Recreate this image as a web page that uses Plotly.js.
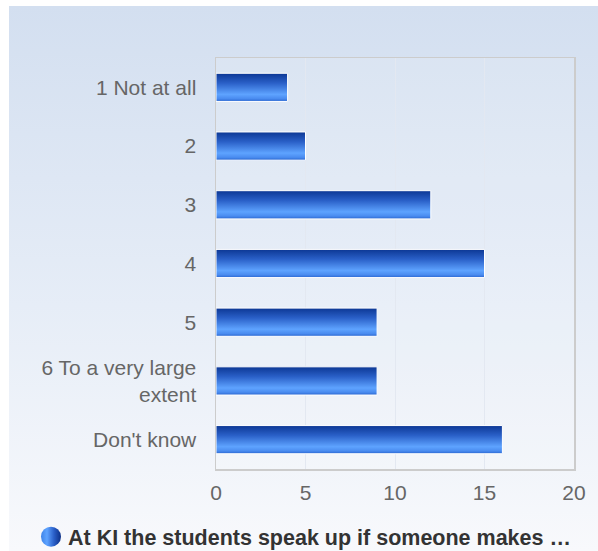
<!DOCTYPE html>
<html>
<head>
<meta charset="utf-8">
<script src="https://cdn.plot.ly/plotly-3.0.1.min.js"></script>
<style>
  html, body { margin: 0; padding: 0; background: #ffffff; }
  #wrap { position: relative; width: 598px; height: 551px; overflow: hidden; }
  #bg { position: absolute; left: 9px; top: 6px; right: 0; bottom: 0;
        background: linear-gradient(to bottom, #d3dff0 0%, #e6edf7 55%, #f8f9fc 100%); }
  #chart { position: absolute; left: 0; top: 0; width: 598px; height: 551px; }
</style>
</head>
<body>
<div id="wrap"><div id="bg"></div><div id="chart"></div></div>
<script>
const categories = ["1 Not at all", "2", "3", "4", "5", "6 To a very large<br>extent", "Don't know"];
const values = [4, 5, 12, 15, 9, 9, 16];
const seriesName = "At KI the students speak up if someone makes …";
const xTicks = [0, 5, 10, 15, 20];

const barTrace = {
  type: 'bar', orientation: 'h',
  x: values, y: categories,
  width: 0.48,
  marker: { color: '#2f6fd8', line: { color: '#ffffff', width: 1 } },
  showlegend: false, hoverinfo: 'x+y'
};
const legendTrace = {
  type: 'scatter', mode: 'markers',
  x: [null], y: [null], name: seriesName,
  marker: { symbol: 'circle', size: 16, color: '#1a4fc0' },
  showlegend: true
};

const layout = {
  width: 598, height: 551,
  margin: { l: 216, r: 24, t: 58, b: 82 },
  paper_bgcolor: 'rgba(0,0,0,0)',
  plot_bgcolor: 'rgba(255,255,255,0.12)',
  font: { family: 'Liberation Sans, Arial, sans-serif', size: 21, color: '#666666' },
  xaxis: {
    range: [0, 20], tickvals: xTicks, ticktext: xTicks.map(String),
    showgrid: true, gridcolor: '#e3e8f1', gridwidth: 1,
    zeroline: false, showline: true, mirror: true, linecolor: '#cccccc', linewidth: 1.5,
    ticks: '', ticklabelstandoff: 4, fixedrange: true
  },
  yaxis: {
    type: 'category', categoryorder: 'array', categoryarray: categories,
    autorange: 'reversed', showgrid: false, zeroline: false,
    showline: true, mirror: true, linecolor: '#cccccc', linewidth: 1.5,
    ticks: '', ticklabelstandoff: 14, fixedrange: true
  },
  showlegend: true,
  legend: {
    orientation: 'h', xref: 'container', yref: 'container',
    x: 0.0468, y: 0.026, xanchor: 'left', yanchor: 'middle',
    bgcolor: 'rgba(0,0,0,0)',
    font: { family: 'Liberation Sans, Arial, sans-serif', size: 21.5, color: '#333333', weight: 'bold' },
    itemwidth: 30
  },
  bargap: 0.5
};

function addGrad(defs, ns, id, horizontal, stops) {
  const g = document.createElementNS(ns, 'linearGradient');
  g.setAttribute('id', id);
  g.setAttribute('x1', '0'); g.setAttribute('y1', '0');
  g.setAttribute('x2', horizontal ? '1' : '0'); g.setAttribute('y2', horizontal ? '0' : '1');
  stops.forEach(function (s) {
    const st = document.createElementNS(ns, 'stop');
    st.setAttribute('offset', s[0]); st.setAttribute('stop-color', s[1]);
    g.appendChild(st);
  });
  defs.appendChild(g);
}

Plotly.newPlot('chart', [barTrace, legendTrace], layout, { displayModeBar: false, staticPlot: true }).then(function (gd) {
  const svg = gd.querySelector('.main-svg');
  const ns = 'http://www.w3.org/2000/svg';
  const defs = svg.querySelector('defs');
  addGrad(defs, ns, 'barGrad', false,
    [['0', '#0c3794'], ['0.35', '#2a60c8'], ['0.75', '#5ea3ff'], ['0.9', '#4a8cf0'], ['1', '#2a66d0']]);
  addGrad(defs, ns, 'legGrad', true,
    [['0', '#3f84e8'], ['0.3', '#5ea3ff'], ['0.65', '#2a5fc8'], ['1', '#0c2f86']]);
  gd.querySelectorAll('.bars .point path').forEach(function (p) {
    p.style.fill = 'url(#barGrad)';
  });
  gd.querySelectorAll('.legend .legendpoints path.scatterpts').forEach(function (p) {
    p.setAttribute('d', 'M13,0A10,10 0 1,1 3,-10A10,10 0 0,1 13,0Z');
    p.style.fill = 'url(#legGrad)';
  });
});
</script>
</body>
</html>
